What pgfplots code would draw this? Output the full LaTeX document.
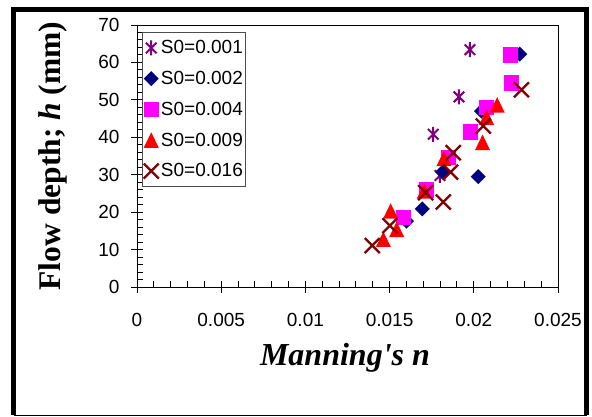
\documentclass[border=0pt]{standalone}
\usepackage{fontspec}
\setmainfont{Liberation Serif}
\newfontfamily\arial{Liberation Sans}
\usepackage{pgfplots}
\pgfplotsset{compat=1.18}
\definecolor{cpurple}{HTML}{800080}
\definecolor{cnavy}{HTML}{000080}
\definecolor{cmag}{HTML}{FF00FF}
\definecolor{cred}{HTML}{FF0000}
\definecolor{cdred}{HTML}{800000}
\pgfdeclareplotmark{xstar}{%
 \pgfpathmoveto{\pgfqpoint{-5.3pt}{-5.3pt}}\pgfpathlineto{\pgfqpoint{5.3pt}{5.3pt}}%
 \pgfpathmoveto{\pgfqpoint{-5.3pt}{5.3pt}}\pgfpathlineto{\pgfqpoint{5.3pt}{-5.3pt}}%
 \pgfpathmoveto{\pgfqpoint{0pt}{-7.5pt}}\pgfpathlineto{\pgfqpoint{0pt}{7.5pt}}%
 \pgfusepathqstroke}
\pgfdeclareplotmark{xdiamond}{%
 \pgfpathmoveto{\pgfqpoint{0pt}{7.5pt}}\pgfpathlineto{\pgfqpoint{7.5pt}{0pt}}%
 \pgfpathlineto{\pgfqpoint{0pt}{-7.5pt}}\pgfpathlineto{\pgfqpoint{-7.5pt}{0pt}}%
 \pgfpathclose\pgfusepathqfill}
\pgfdeclareplotmark{xsquare}{%
 \pgfpathrectangle{\pgfqpoint{-7.7pt}{-7.7pt}}{\pgfqpoint{15.4pt}{15.4pt}}\pgfusepathqfill}
\pgfdeclareplotmark{xtri}{%
 \pgfpathmoveto{\pgfqpoint{0pt}{8pt}}\pgfpathlineto{\pgfqpoint{7.5pt}{-7.5pt}}%
 \pgfpathlineto{\pgfqpoint{-7.5pt}{-7.5pt}}\pgfpathclose\pgfusepathqfill}
\pgfdeclareplotmark{xcross}{%
 \pgfpathmoveto{\pgfqpoint{-7.5pt}{-7.5pt}}\pgfpathlineto{\pgfqpoint{7.5pt}{7.5pt}}%
 \pgfpathmoveto{\pgfqpoint{-7.5pt}{7.5pt}}\pgfpathlineto{\pgfqpoint{7.5pt}{-7.5pt}}%
 \pgfusepathqstroke}
\begin{document}
\begin{tikzpicture}
\fill[white] (0,0) rectangle (592pt,416pt);
\draw[line width=4.5pt] (13.5pt,1pt) -- (13.5pt,406.5pt) -- (586.5pt,406.5pt) -- (586.5pt,1pt);
\draw[line width=1.2pt] (13.5pt,0.8pt) -- (586.5pt,0.8pt);
\begin{axis}[
  at={(137pt,129pt)}, anchor=south west,
  scale only axis, width=421pt, height=262pt,
  xmin=0, xmax=0.025, ymin=0, ymax=70,
  scaled x ticks=false, scaled y ticks=false,
  xtick={0,0.005,0.01,0.015,0.02,0.025},
  xticklabels={0,0.005,0.01,0.015,0.02,0.025},
  ytick={0,10,20,30,40,50,60,70},
  yticklabels={0,10,20,30,40,50,60,70},
  minor x tick num=4, minor y tick num=4,
  xtick pos=bottom, ytick pos=left,
  tick align=center,
  major tick length=12pt, minor tick length=6pt,
  minor x tick style={yshift=3pt},
  minor y tick style={xshift=3pt},
  axis line style={line width=1pt},
  tick style={line width=1pt, black},
  tick label style={font=\arial\fontsize{19}{22}\selectfont},
  xticklabel style={yshift=-17pt},
  yticklabel style={xshift=-8pt},
  every axis y label/.style={at={(axis description cs:-0.2,0.5)}, rotate=90, anchor=center},
  every axis x label/.style={at={(axis description cs:0.494,-0.299)}, anchor=base},
  ylabel={\fontsize{31.5}{34}\selectfont\bfseries Flow depth; \textit{h} (mm)},
  xlabel={\fontsize{32}{36}\selectfont\bfseries\itshape Manning\textquotesingle s n},
  legend style={at={(axis description cs:0.012,0.973)}, anchor=north west,
    draw=black!70, line width=1pt, inner xsep=1pt, inner ysep=6pt, row sep=12pt,
    font=\arial\fontsize{19}{22}\selectfont},
  legend cell align=left,
  legend image code/.code={\draw[mark repeat=2,mark phase=2,#1] plot coordinates {(0pt,0pt)(7pt,0pt)(14pt,0pt)};},
]
\addplot[only marks, mark=xstar, color=cpurple, mark options={line width=2pt}] coordinates {
 (0.01977,63.4) (0.01912,50.8) (0.01759,40.8) (0.01799,29.8)};
\addlegendentry{S0=0.001\hspace{6pt}}
\addplot[only marks, mark=xdiamond, color=cnavy] coordinates {
 (0.02273,62.2) (0.02046,47.0) (0.01815,30.7) (0.02026,29.5) (0.01694,20.9) (0.01601,17.6)};
\addlegendentry{S0=0.002\hspace{6pt}}
\addplot[only marks, mark=xsquare, color=cmag] coordinates {
 (0.02218,62.0) (0.02224,54.5) (0.02076,47.9) (0.01981,41.4) (0.01848,34.6) (0.0172,25.9) (0.01581,18.5)};
\addlegendentry{S0=0.004\hspace{6pt}}
\addplot[only marks, mark=xtri, color=cred] coordinates {
 (0.02139,48.6) (0.02076,45.3) (0.02052,38.6) (0.01823,34.3) (0.01706,25.6) (0.01506,20.25) (0.01542,15.35) (0.01463,12.7)};
\addlegendentry{S0=0.009\hspace{6pt}}
\addplot[only marks, mark=xcross, color=cdred, mark options={line width=2.3pt}] coordinates {
 (0.02283,52.7) (0.02056,43.0) (0.01878,35.9) (0.01862,30.7) (0.01714,25.2) (0.01819,22.7) (0.01502,16.4) (0.01397,11.06)};
\addlegendentry{S0=0.016\hspace{6pt}}
\end{axis}
\pgfresetboundingbox
\path[use as bounding box] (0,0) rectangle (592pt,416pt);
\end{tikzpicture}
\end{document}
